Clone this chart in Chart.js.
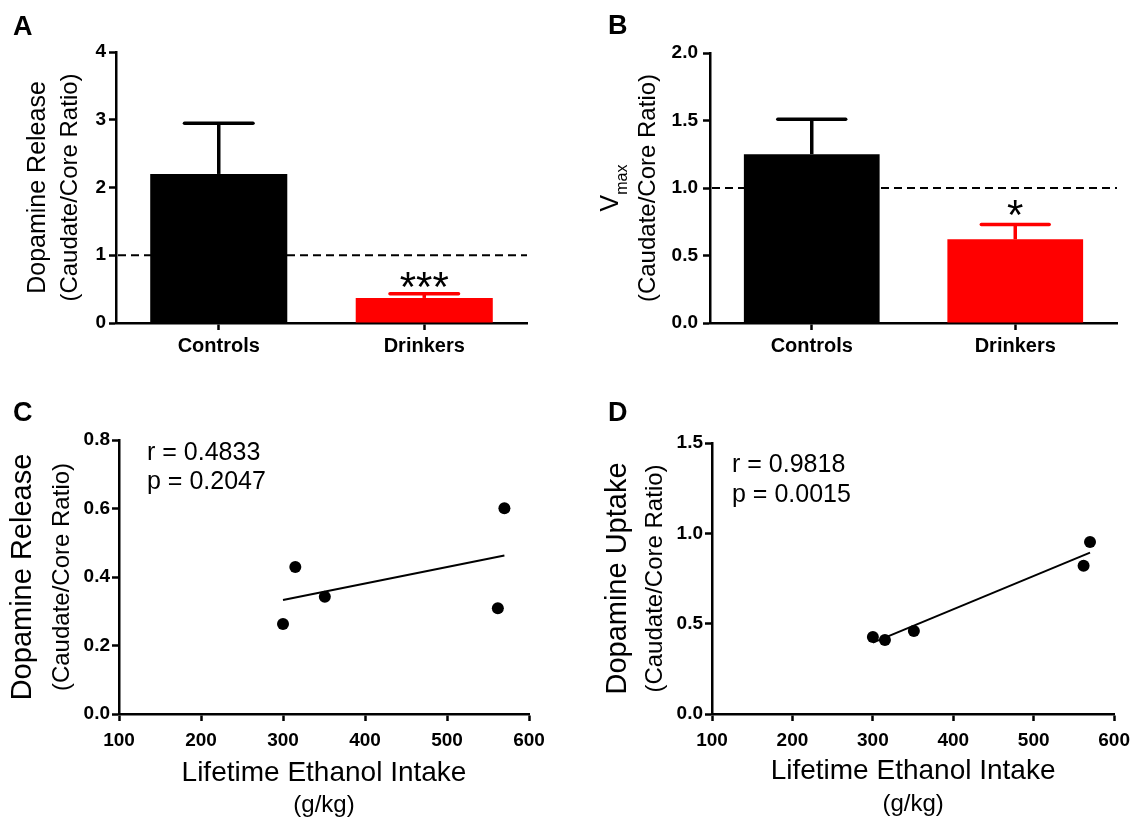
<!DOCTYPE html>
<html>
<head>
<meta charset="utf-8">
<script src="https://cdn.jsdelivr.net/npm/chart.js@4.4.1/dist/chart.umd.min.js"></script>
<style>
  html, body { margin: 0; padding: 0; background: #fff; }
  body { width: 1138px; height: 819px; position: relative; overflow: hidden; }
  canvas { position: absolute; }
</style>
</head>
<body>
<canvas id="cA" width="560" height="400" style="left:0;top:0"></canvas>
<canvas id="cB" width="578" height="400" style="left:560px;top:0"></canvas>
<canvas id="cC" width="560" height="419" style="left:0;top:400px"></canvas>
<canvas id="cD" width="578" height="419" style="left:560px;top:400px"></canvas>
<script>
// ---------------- data ----------------
const categories = ['Controls', 'Drinkers'];
const barColors = ['#000000', '#ff0000'];

const releaseMean = [2.2, 0.37];
const releaseErr  = [0.75, 0.06];
const releaseSig  = ['', '***'];
const releaseTicks = [0, 1, 2, 3, 4];

const vmaxMean = [1.25, 0.62];
const vmaxErr  = [0.26, 0.11];
const vmaxSig  = ['', '*'];
const vmaxTicks = [0, 0.5, 1.0, 1.5, 2.0];

const intake = [300, 315, 351, 562, 570];
const releaseRatio = [0.263, 0.429, 0.342, 0.309, 0.601];
const uptakeRatio  = [0.426, 0.410, 0.460, 0.820, 0.952];
const releaseFitX = [300, 570];
const releaseFitY = [0.333, 0.463];
const uptakeFitX  = [300, 570];
const uptakeFitY  = [0.395, 0.893];
const intakeTicks = [100, 200, 300, 400, 500, 600];
const releaseRatioTicks = [0, 0.2, 0.4, 0.6, 0.8];
const uptakeRatioTicks  = [0, 0.5, 1.0, 1.5];

const statsC = ['r = 0.4833', 'p = 0.2047'];
const statsD = ['r = 0.9818', 'p = 0.0015'];

// ---------------- styling helpers ----------------
const FF = '"Liberation Sans", Arial, Helvetica, sans-serif';
Chart.defaults.color = '#000';
Chart.defaults.font.family = FF;

function fixedTicks(arr) {
  return function (scale) { scale.ticks = arr.map(v => ({ value: v })); };
}

// reference dashed line (behind bars)
const refLinePlugin = {
  id: 'refLine',
  beforeDatasetsDraw(chart, args, opts) {
    if (opts.value === undefined) return;
    const { ctx, chartArea } = chart;
    const y = chart.scales.y.getPixelForValue(opts.value);
    ctx.save();
    ctx.strokeStyle = '#000';
    ctx.lineWidth = 2.2;
    ctx.setLineDash([8, 5]);
    ctx.beginPath();
    ctx.moveTo(chartArea.left + 2, y);
    ctx.lineTo(chartArea.right, y);
    ctx.stroke();
    ctx.restore();
  }
};

// error bars + significance marks
const errorBarPlugin = {
  id: 'errBars',
  afterDatasetsDraw(chart, args, opts) {
    if (!opts.err) return;
    const { ctx } = chart;
    const meta = chart.getDatasetMeta(0);
    const ys = chart.scales.y;
    meta.data.forEach((el, i) => {
      const mean = chart.data.datasets[0].data[i];
      const top = ys.getPixelForValue(mean + opts.err[i]);
      const half = el.width * 0.25;
      const col = opts.colors[i];
      ctx.save();
      ctx.strokeStyle = col;
      ctx.lineWidth = 3.5;
      ctx.lineCap = 'butt';
      ctx.beginPath();
      ctx.moveTo(el.x, el.y);
      ctx.lineTo(el.x, top);
      ctx.stroke();
      ctx.lineCap = 'round';
      ctx.beginPath();
      ctx.moveTo(el.x - half, top);
      ctx.lineTo(el.x + half, top);
      ctx.stroke();
      const s = opts.sig[i];
      if (s) {
        ctx.fillStyle = '#000';
        ctx.font = '42px ' + FF;
        ctx.textAlign = 'center';
        ctx.textBaseline = 'alphabetic';
        const m = ctx.measureText(s);
        const bottom = top - opts.sigGap;
        ctx.fillText(s, el.x, bottom - m.actualBoundingBoxDescent);
      }
      ctx.restore();
    });
  }
};

// titles, panel letters, annotations
const textPlugin = {
  id: 'panelText',
  afterDraw(chart, args, o) {
    const { ctx, chartArea } = chart;
    ctx.save();
    ctx.fillStyle = '#000';
    // panel letter
    ctx.font = 'bold 27px ' + FF;
    ctx.textAlign = 'left';
    ctx.textBaseline = 'alphabetic';
    ctx.fillText(o.letter, o.letterX, o.letterY);
    // y-axis title
    const cy = (chartArea.top + chartArea.bottom) / 2;
    ctx.save();
    ctx.translate(0, cy);
    ctx.rotate(-Math.PI / 2);
    if (o.ySub) {
      ctx.font = o.yFont1 + ' ' + FF;
      const wMain = ctx.measureText(o.yTitle1).width;
      ctx.font = o.ySubFont + ' ' + FF;
      const wSub = ctx.measureText(o.ySub).width;
      const start = -(wMain + wSub) / 2;
      ctx.textAlign = 'left';
      ctx.textBaseline = 'alphabetic';
      ctx.font = o.yFont1 + ' ' + FF;
      ctx.fillText(o.yTitle1, start, o.y1Base);
      ctx.font = o.ySubFont + ' ' + FF;
      ctx.fillText(o.ySub, start + wMain, o.ySubBase);
    } else {
      ctx.font = o.yFont1 + ' ' + FF;
      ctx.textAlign = 'center';
      ctx.textBaseline = 'middle';
      ctx.fillText(o.yTitle1, 0, o.y1X);
    }
    ctx.font = o.yFont2 + ' ' + FF;
    ctx.textAlign = 'center';
    ctx.textBaseline = 'middle';
    ctx.fillText(o.yTitle2, 0, o.y2X);
    ctx.restore();
    // x-axis title
    if (o.xTitle1) {
      const cx = (chartArea.left + chartArea.right) / 2;
      ctx.textAlign = 'center';
      ctx.textBaseline = 'middle';
      ctx.font = '28px ' + FF;
      ctx.fillText(o.xTitle1, cx, o.x1Y);
      ctx.font = '24px ' + FF;
      ctx.fillText(o.xTitle2, cx, o.x2Y);
    }
    // stats annotation
    if (o.stats) {
      ctx.font = '25px ' + FF;
      ctx.textAlign = 'left';
      ctx.textBaseline = 'alphabetic';
      o.stats.forEach((t, i) => ctx.fillText(t, o.statsX, o.statsY[i]));
    }
    ctx.restore();
  }
};

function axisCommon(tickLen, pad, fontSize) {
  return {
    border: { display: true, color: '#000', width: 2.5 },
    grid: { drawOnChartArea: false, drawTicks: true, tickLength: tickLen, tickWidth: 2.5, tickColor: '#000' },
    ticks: { color: '#000', padding: pad, font: { family: FF, size: fontSize, weight: 'bold' } }
  };
}

function barChart(id, mean, err, sig, ticks, tickFmt, layout, text) {
  const yAx = axisCommon(7, layout.yPad, 19);
  yAx.min = ticks[0];
  yAx.max = ticks[ticks.length - 1];
  yAx.afterBuildTicks = fixedTicks(ticks);
  yAx.ticks.callback = tickFmt;
  yAx.afterFit = s => { s.width = layout.left; };
  const xAx = axisCommon(7, 4, 20);
  xAx.offset = true;
  xAx.grid.offset = false;
  xAx.afterFit = s => { s.height = layout.xH; };
  return new Chart(document.getElementById(id), {
    type: 'bar',
    data: {
      labels: categories,
      datasets: [{ data: mean, backgroundColor: barColors, borderWidth: 0,
                   barPercentage: 0.667, categoryPercentage: 1.0 }]
    },
    options: {
      responsive: false, animation: false, devicePixelRatio: 1,
      layout: { padding: { left: 0, top: layout.top, right: layout.right, bottom: 0 } },
      scales: { x: xAx, y: yAx },
      plugins: {
        legend: { display: false }, tooltip: { enabled: false },
        refLine: { value: 1 },
        errBars: { err: err, sig: sig, colors: barColors, sigGap: layout.sigGap },
        panelText: text
      }
    },
    plugins: [refLinePlugin, errorBarPlugin, textPlugin]
  });
}

function scatterChart(id, xs, ys, fx, fy, yTicks, layout, text) {
  const yAx = axisCommon(7, 2, 19);
  yAx.type = 'linear';
  yAx.min = yTicks[0];
  yAx.max = yTicks[yTicks.length - 1];
  yAx.afterBuildTicks = fixedTicks(yTicks);
  yAx.ticks.callback = v => Number(v).toFixed(1);
  yAx.afterFit = s => { s.width = layout.left; };
  const xAx = axisCommon(7, 8, 19);
  xAx.type = 'linear';
  xAx.min = intakeTicks[0];
  xAx.max = intakeTicks[intakeTicks.length - 1];
  xAx.afterBuildTicks = fixedTicks(intakeTicks);
  xAx.ticks.callback = v => String(v);
  xAx.afterFit = s => { s.height = layout.xH; };
  return new Chart(document.getElementById(id), {
    type: 'scatter',
    data: {
      datasets: [
        { type: 'scatter', data: xs.map((x, i) => ({ x: x, y: ys[i] })),
          pointRadius: 6, pointBackgroundColor: '#000', pointBorderWidth: 0, showLine: false },
        { type: 'line', data: fx.map((x, i) => ({ x: x, y: fy[i] })),
          borderColor: '#000', borderWidth: 2, pointRadius: 0, showLine: true, fill: false, tension: 0 }
      ]
    },
    options: {
      responsive: false, animation: false, devicePixelRatio: 1,
      layout: { padding: { left: 0, top: layout.top, right: layout.right, bottom: 0 } },
      scales: { x: xAx, y: yAx },
      plugins: { legend: { display: false }, tooltip: { enabled: false }, panelText: text }
    },
    plugins: [textPlugin]
  });
}

barChart('cA', releaseMean, releaseErr, releaseSig, releaseTicks, v => String(v),
  { left: 116, top: 52, right: 33, xH: 77, yPad: 3, sigGap: 6 },
  { letter: 'A', letterX: 13, letterY: 35,
    yTitle1: 'Dopamine Release', yFont1: '25px', y1X: 38,
    yTitle2: '(Caudate/Core Ratio)', yFont2: '24px', y2X: 70 });

barChart('cB', vmaxMean, vmaxErr, vmaxSig, vmaxTicks, v => Number(v).toFixed(1),
  { left: 150, top: 53, right: 21, xH: 77, yPad: 5, sigGap: 8 },
  { letter: 'B', letterX: 48, letterY: 34,
    yTitle1: 'V', yFont1: '25px', y1Base: 58, ySub: 'max', ySubFont: '16px', ySubBase: 67,
    yTitle2: '(Caudate/Core Ratio)', yFont2: '24px', y2X: 88 });

scatterChart('cC', intake, releaseRatio, releaseFitX, releaseFitY, releaseRatioTicks,
  { left: 119, top: 40, right: 31, xH: 105 },
  { letter: 'C', letterX: 13, letterY: 21,
    yTitle1: 'Dopamine Release', yFont1: '29px', y1X: 23,
    yTitle2: '(Caudate/Core Ratio)', yFont2: '24px', y2X: 62,
    xTitle1: 'Lifetime Ethanol Intake', x1Y: 373, xTitle2: '(g/kg)', x2Y: 405,
    stats: statsC, statsX: 147, statsY: [60, 89] });

scatterChart('cD', intake, uptakeRatio, uptakeFitX, uptakeFitY, uptakeRatioTicks,
  { left: 152, top: 43, right: 21, xH: 105 },
  { letter: 'D', letterX: 48, letterY: 21,
    yTitle1: 'Dopamine Uptake', yFont1: '29px', y1X: 58,
    yTitle2: '(Caudate/Core Ratio)', yFont2: '24px', y2X: 95,
    xTitle1: 'Lifetime Ethanol Intake', x1Y: 371, xTitle2: '(g/kg)', x2Y: 404,
    stats: statsD, statsX: 172, statsY: [72, 102] });
</script>
</body>
</html>
